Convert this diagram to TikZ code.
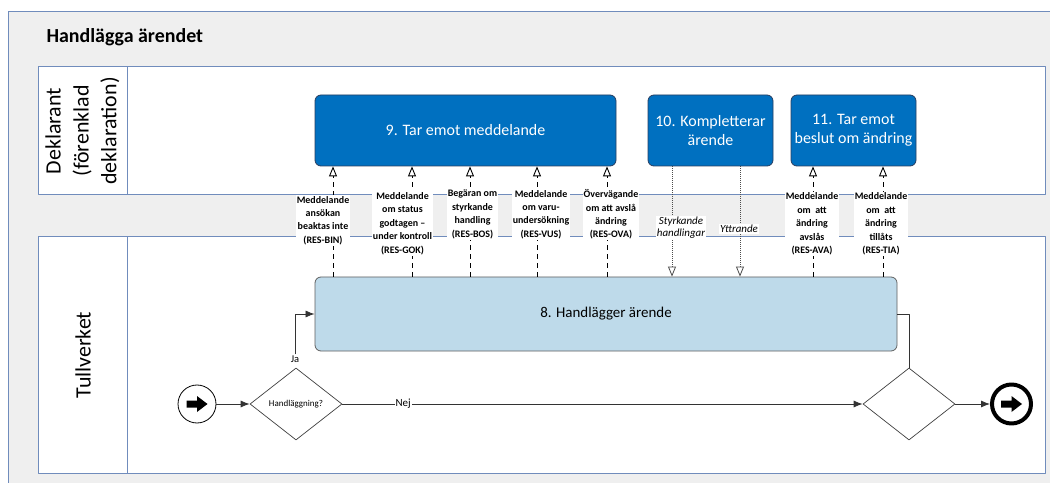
\documentclass[tikz,border=0pt]{standalone}
\usepackage{fontspec}
\setmainfont{Carlito}
\usetikzlibrary{arrows.meta,shapes.geometric}
\definecolor{framecol}{RGB}{112,140,188}
\definecolor{bgcol}{RGB}{239,239,239}
\definecolor{taskfill}{RGB}{0,112,192}
\definecolor{taskline}{RGB}{40,62,96}
\definecolor{workfill}{RGB}{190,218,234}
\definecolor{workline}{RGB}{96,96,96}
\newcommand{\fatarrow}[1]{%
  \fill[shift={(#1)}] (-10.5,-3.5) -- (0,-3.5) -- (0,-8) -- (10.5,0) -- (0,8) -- (0,3.5) -- (-10.5,3.5) -- cycle;}

\begin{document}
\begin{tikzpicture}[x=1bp,y=-1bp,>={Latex[length=9bp,width=7bp]},line join=bevel,
  lane/.style={draw=framecol,fill=white,line width=1bp},
  task/.style={draw=taskline,fill=taskfill,rounded corners=6bp,text=white,align=center,
    font=\fontsize{16}{19}\selectfont,minimum height=71bp,inner sep=0pt,line width=0.8bp},
  work/.style={draw=workline,fill=workfill,rounded corners=6bp,align=center,
    font=\fontsize{15}{18}\selectfont,minimum width=582bp,minimum height=74bp,inner sep=0pt,line width=0.8bp},
  gateway/.style={diamond,draw=black!75,fill=white,minimum width=92bp,minimum height=72bp,
    shape aspect=1.28,inner sep=0pt,font=\fontsize{9}{11}\selectfont,line width=0.7bp},
  event/.style={circle,draw=black,fill=white,minimum size=38bp,inner sep=0pt},
  seqflow/.style={->,draw=black!80,line width=0.8bp},
  msgflow/.style={-{Triangle[open,length=10bp,width=8bp]},dash pattern=on 5bp off 4bp,line width=0.9bp},
  dataflow/.style={-{Triangle[open,length=10bp,width=8bp]},dash pattern=on 1bp off 1bp,draw=black!70,line width=0.8bp},
  msglabel/.style={fill=white,align=center,inner sep=1bp,font=\bfseries\fontsize{10}{13.5}\selectfont},
  datalabel/.style={fill=white,align=center,inner sep=1bp,font=\itshape\fontsize{11}{12}\selectfont},
  lanelabel/.style={rotate=90,align=center,font=\fontsize{22}{28}\selectfont},
]
\useasboundingbox (0,0) rectangle (1050,483);
\clip (0,0) rectangle (1050,483);
\fill[white] (0,0) rectangle (1050,483);
%% pool and lanes
\draw[draw=framecol,fill=bgcol,line width=1bp] (8,12) rectangle (1070,500);
\node[anchor=west,font=\bfseries\fontsize{20}{24}\selectfont] (title) at (43,37) {Handlägga ärendet};
\draw[lane] (38,67) rectangle (1045,195);
\draw[lane] (127,67) -- (127,195);
\draw[lane] (38,237) rectangle (1045,473);
\draw[lane] (127,237) -- (127,473);
\node[lanelabel] (deklarant) at (82.5,131) {Deklarant\\(förenklad\\deklaration)};
\node[lanelabel] (tullverket) at (83,355) {Tullverket};
%%
  % Node: tar
  \node[task,minimum width=301bp] (tar) at (465.5,130.5) {9. Tar emot meddelande};
  % Node: komplettera
  \node[task,minimum width=125bp] (komplettera) at (710.5,130.5) {10. Kompletterar\\ärende};
  % Node: beslut
  \node[task,minimum width=125bp] (beslut) at (853.5,130.5) {11. Tar emot\\beslut om ändring};
  % Node: handlagg
  \node[work] (handlagg) at (606,314) {8. Handlägger ärende};
  % Node: start
  \node[event,line width=0.8bp] (start) at (197,404) {};
  \fatarrow{start.center}
  % Node: fraga
  \node[gateway] (fraga) at (296,404) {Handläggning?};
  % Node: join
  \node[gateway] (join) at (909,404) {};
  % Node: slut
  \node[event,minimum size=39bp,line width=4bp] (slut) at (1011.5,404) {};
  \fatarrow{slut.center}
%%
  % Edge: start -> fraga
  \draw[seqflow] (start) -- (fraga);
  % Edge: fraga -> handlagg
  \node[font=\fontsize{10.5}{12}\selectfont,inner sep=1bp] (ja) at (295,359) {Ja};
  \draw[seqflow] (ja) |- (handlagg);
  % Edge: fraga -> join
  \draw[seqflow] (fraga) -- (join) node[pos=0.117,fill=white,inner sep=1bp,font=\fontsize{11}{12}\selectfont] (nej) {Nej};
  % Edge: handlagg -> join
  \draw[draw=black!80,line width=0.8bp] (handlagg.east) -| (join.north);
  % Edge: join -> slut
  \draw[seqflow] (join) -- (slut);
%%
  \coordinate (xbin) at (333,0);
  \coordinate (xgok) at (412,0);
  \coordinate (xbos) at (470,0);
  \coordinate (xvus) at (537,0);
  \coordinate (xova) at (607,0);
  \coordinate (xstyrk) at (672,0);
  \coordinate (xyttr) at (740,0);
  \coordinate (xava) at (813,0);
  \coordinate (xtia) at (883,0);
  % Edge: handlagg -> tar
  \draw[msgflow] (handlagg.north -| xbin) -- (tar.south -| xbin);
  \draw[msgflow] (handlagg.north -| xgok) -- (tar.south -| xgok);
  \draw[msgflow] (handlagg.north -| xbos) -- (tar.south -| xbos);
  \draw[msgflow] (handlagg.north -| xvus) -- (tar.south -| xvus);
  \draw[msgflow] (handlagg.north -| xova) -- (tar.south -| xova);
  % Edge: komplettera -> handlagg
  \draw[dataflow] (komplettera.south -| xstyrk) -- (handlagg.north -| xstyrk);
  \draw[dataflow] (komplettera.south -| xyttr) -- (handlagg.north -| xyttr);
  % Edge: handlagg -> beslut
  \draw[msgflow] (handlagg.north -| xava) -- (beslut.south -| xava);
  \draw[msgflow] (handlagg.north -| xtia) -- (beslut.south -| xtia);
%%
  \node[msglabel] (bin) at (323,220.5) {Meddelande\\ansökan\\beaktas inte\\(RES-BIN)};
  \node[msglabel] (gok) at (402.5,223.5) {Meddelande\\om status\\godtagen –\\under kontroll\\(RES-GOK)};
  \node[msglabel] (bos) at (472.5,214.5) {Begäran om\\styrkande\\handling\\(RES-BOS)};
  \node[msglabel] (vus) at (541,214.5) {Meddelande\\om varu-\\undersökning\\(RES-VUS)};
  \node[msglabel] (ova) at (611,214.5) {Övervägande\\om att avslå\\ändring\\(RES-OVA)};
  \node[datalabel] (styrk) at (681,228) {Styrkande\\handlingar};
  \node[datalabel] (yttr) at (739,229) {Yttrande};
  \node[msglabel] (ava) at (812,224) {Meddelande\\om\ \ att\\ändring\\avslås\\(RES-AVA)};
  \node[msglabel] (tia) at (881,224) {Meddelande\\om\ \ att\\ändring\\tillåts\\(RES-TIA)};
%
\end{tikzpicture}
\end{document}
